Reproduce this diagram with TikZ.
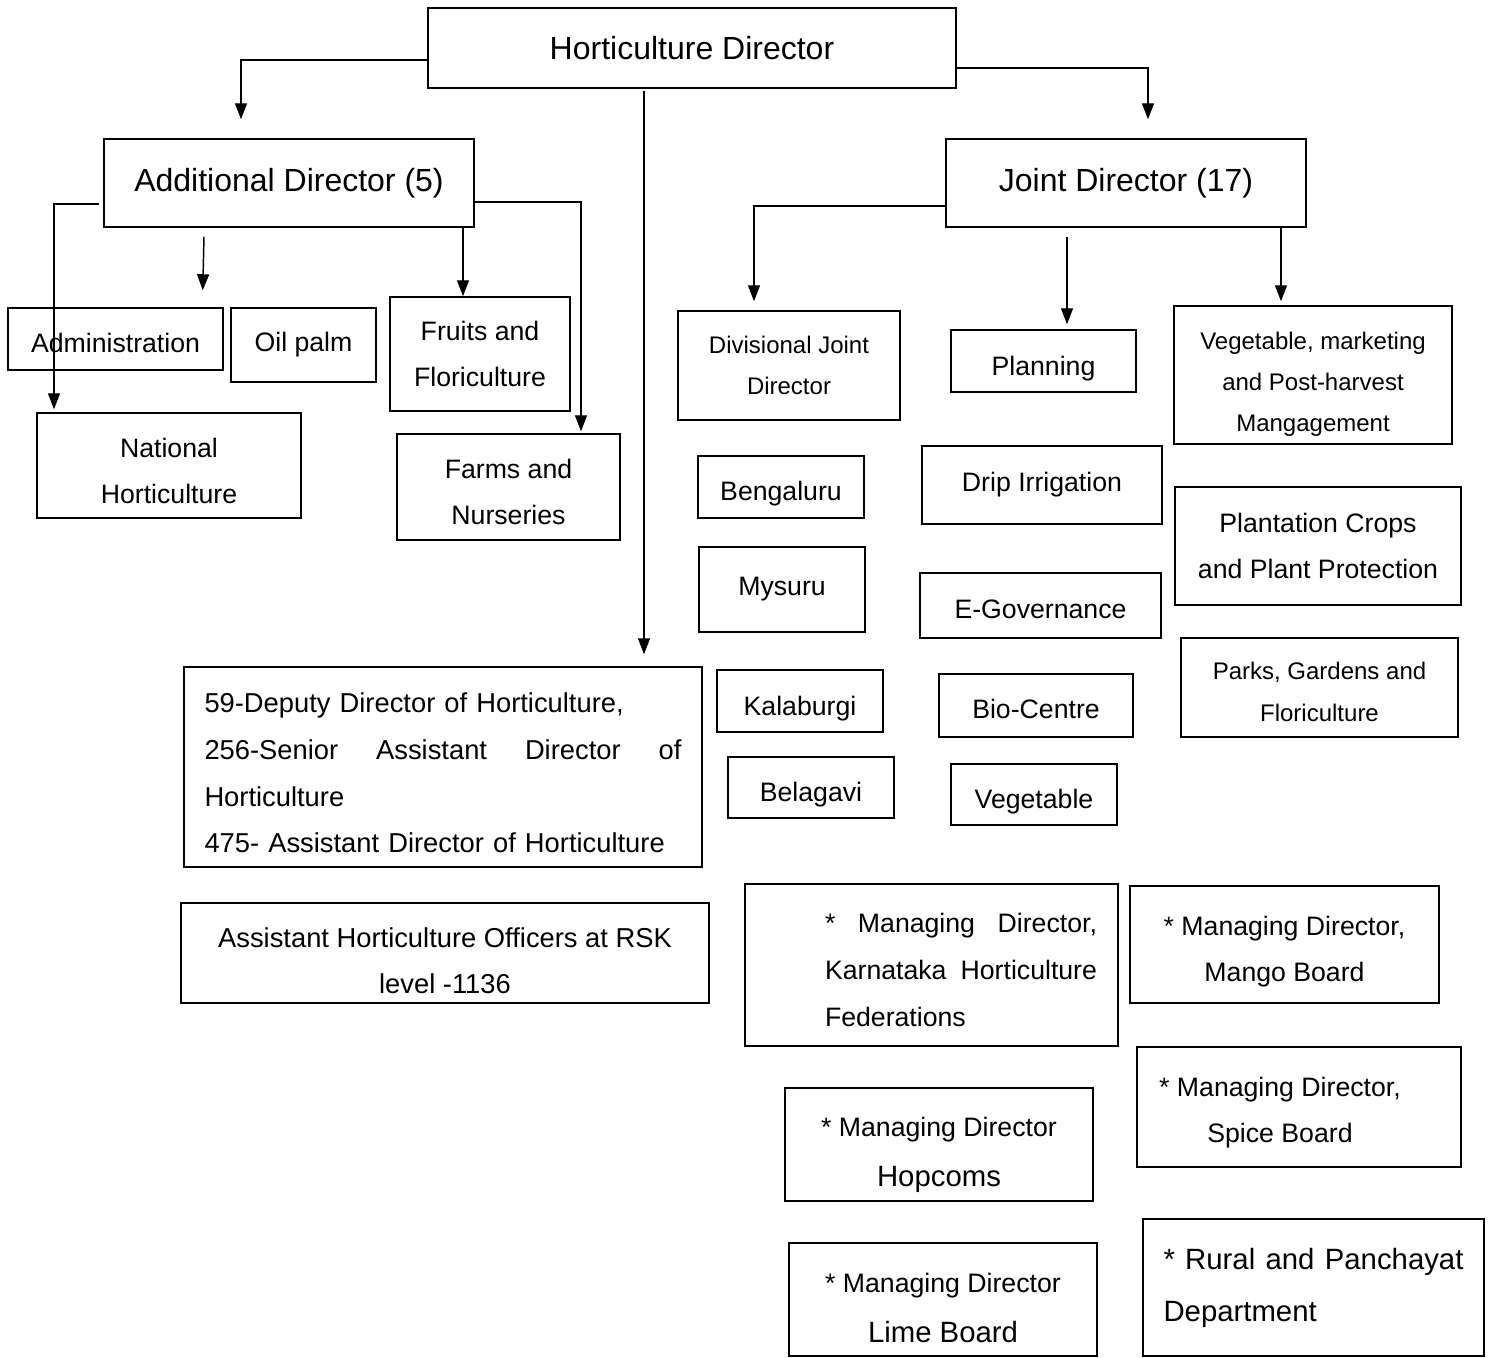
\documentclass[tikz,border=0pt]{standalone}
\usepackage{fontspec}
\setmainfont{Liberation Sans}
\usetikzlibrary{arrows.meta,positioning,calc}

\begin{document}
\begin{tikzpicture}[
    x=0.75pt, y=-0.75pt,
    caixa/.style={draw, line width=1.1pt, inner sep=0pt, align=center,
        font=\fontsize{20}{34.5}\selectfont},
    caixap/.style={caixa, font=\fontsize{18}{31}\selectfont},
    titulo/.style={caixa, font=\fontsize{24}{30}\selectfont},
    texto/.style={inner sep=0pt, align=center, font=\fontsize{20}{34.5}\selectfont},
    desce/.style={execute at begin node={\rule{0pt}{#1}}},
    fluxo/.style={-{Triangle[length=12pt, width=9pt]}, line width=1.1pt}
]
    \useasboundingbox (0,0) rectangle (1496,1358);

    % topo
    \node[titulo, minimum width=396pt, minimum height=60pt] (hdir) at (692,48) {Horticulture Director};
    \node[titulo, minimum width=277.5pt, minimum height=66pt] (add) at (289,183) {Additional Director (5)};
    \node[titulo, minimum width=270pt, minimum height=66pt] (joint) at (1126,183) {Joint Director (17)};

    % ramo do Additional Director
    \node[caixa, desce=20.3pt, minimum width=161.25pt, minimum height=46.5pt] (admin) at (115.5,339) {Administration};
    \node[caixa, minimum width=108.75pt, minimum height=55.5pt] (oilpalm) at (303.5,345) {Oil palm};
    \node[caixa, minimum width=135pt, minimum height=85.5pt] (fruits) at (480,354) {Fruits and\\Floriculture};
    \node[caixa, minimum width=198pt, minimum height=78.75pt] (natl) at (169,465.5) {\rule{0pt}{22.5pt}National\\Horticulture};
    \node[caixa, minimum width=167.25pt, minimum height=79.5pt] (farms) at (508.5,487) {\rule{0pt}{22.5pt}Farms and\\Nurseries};

    % ramo do Joint Director
    \node[caixap, minimum width=166.5pt, minimum height=81.75pt] (divjd) at (789,365.5) {Divisional Joint\\Director};
    \node[caixa, desce=26.3pt, minimum width=138.75pt, minimum height=46.5pt] (planning) at (1043.5,361) {Planning};
    \node[caixap, minimum width=208.5pt, minimum height=103.5pt] (vegmkt) at (1313,375) {\rule{0pt}{27pt}Vegetable, marketing\\and Post-harvest\\Mangagement};
    \node[caixa, desce=24.8pt, minimum width=124.5pt, minimum height=46.5pt] (bengaluru) at (781,487) {Bengaluru};
    \node[caixa, minimum width=124.5pt, minimum height=63.75pt] (mysuru) at (782,589.5) {Mysuru};
    \node[caixa, desce=26.3pt, minimum width=124.5pt, minimum height=46.5pt] (kalaburgi) at (800,701) {Kalaburgi};
    \node[caixa, desce=24.8pt, minimum width=124.5pt, minimum height=45.75pt] (belagavi) at (811,787.5) {Belagavi};
    \node[caixa, minimum width=180pt, minimum height=58.5pt] (drip) at (1042,485) {Drip Irrigation};
    \node[caixa, desce=20.3pt, minimum width=180.75pt, minimum height=48.75pt] (egov) at (1040.5,605.5) {E-Governance};
    \node[caixa, desce=20.3pt, minimum width=145.5pt, minimum height=47.25pt] (bio) at (1036,705.5) {Bio-Centre};
    \node[caixa, desce=24.8pt, minimum width=124.5pt, minimum height=45.75pt] (vegetable) at (1034,794.5) {Vegetable};
    \node[caixa, minimum width=214.5pt, minimum height=88.5pt] (plantation) at (1318,546) {Plantation Crops\\and Plant Protection};
    \node[caixap, minimum width=207.75pt, minimum height=74.25pt] (parks) at (1319.5,687.5) {\rule{0pt}{19.6pt}Parks, Gardens and\\Floriculture};

    % quadro distrital
    \node[caixa, desce=23.7pt, minimum width=388.5pt, minimum height=150pt, text width=357.75pt, align=left,
        font=\fontsize{20.5}{35}\selectfont] (deputy) at (443,767)
        {59-Deputy Director of Horticulture,\\256-Senior\hfill Assistant\hfill Director\hfill of\\Horticulture\\475- Assistant Director of Horticulture};
    \node[caixa, minimum width=396pt, minimum height=75pt, font=\fontsize{20.5}{34.5}\selectfont] (aho) at (445,953)
        {\rule{0pt}{26.7pt}Assistant Horticulture Officers at RSK\\level -1136};

    % corporacoes e conselhos
    \node[caixa, minimum width=279.75pt, minimum height=121.5pt] (khf) at (931.5,965) {};
    \node[texto, text width=204pt, align=left, font=\fontsize{20}{35}\selectfont] (khftxt)
        at ($(khf.center)+(29.5,5)$) {*\hfill Managing\hfill Director,\\Karnataka\hfill Horticulture\\Federations};
    \node[caixa, minimum width=231.75pt, minimum height=87.75pt] (mango) at (1284.5,944.5) {\rule{0pt}{24.8pt}* Managing Director,\\Mango Board};
    \node[caixa, minimum width=243pt, minimum height=90pt] (spice) at (1299,1107) {};
    \node[texto] (spicetxt) at ($(spice.center)+(-19,6)$) {* Managing Director,\\Spice Board};
    \node[caixa, minimum width=231pt, minimum height=84.75pt, font=\fontsize{20}{37.5}\selectfont] (hopcoms) at (939,1144.5)
        {\rule{0pt}{30.8pt}* Managing Director\\{\fontsize{22}{37.5}\selectfont Hopcoms}};
    \node[caixa, minimum width=231pt, minimum height=84.75pt, font=\fontsize{20}{37.5}\selectfont] (lime) at (943,1299.5)
        {\rule{0pt}{27pt}* Managing Director\\{\fontsize{22}{37.5}\selectfont Lime Board}};
    \node[caixa, minimum width=255.75pt, minimum height=102.75pt, text width=225pt, align=left,
        font=\fontsize{22}{39}\selectfont] (rural) at (1313.5,1287.5)
        {*\hfill Rural\hfill and\hfill Panchayat\\Department};

    % ligacoes
    \draw[fluxo] ($(hdir.west)+(0,12)$) -| ($(add.north)+(-48,-19)$);
    \draw[fluxo] ($(hdir.east)+(0,20)$) -| ($(joint.north)+(22,-19)$);
    \draw[fluxo] ($(hdir.south)+(-48,2)$) -- ($(deputy.north)+(201,-12)$);
    \draw[fluxo] ($(add.south)+(-85,9)$) -- ($(admin.north east)+(-21,-17)$);
    \draw[fluxo] ($(add.south)+(174,0)$) -- ($(fruits.north)+(-17,0)$);
    \draw[fluxo] ($(add.east)+(0,19)$) -| ($(farms.north)+(72.5,-2)$);
    \draw[fluxo] ($(add.west)+(-4,21)$) -| ($(natl.north)+(-115,-3)$);
    \draw[fluxo] ($(joint.west)+(0,23)$) -| ($(divjd.north)+(-35,-9)$);
    \draw[fluxo] ($(joint.south)+(-59,9)$) -- ($(planning.north)+(23.5,-5)$);
    \draw[fluxo] ($(joint.south)+(155,0)$) -- ($(vegmkt.north)+(-32,-4)$);
\end{tikzpicture}
\end{document}
